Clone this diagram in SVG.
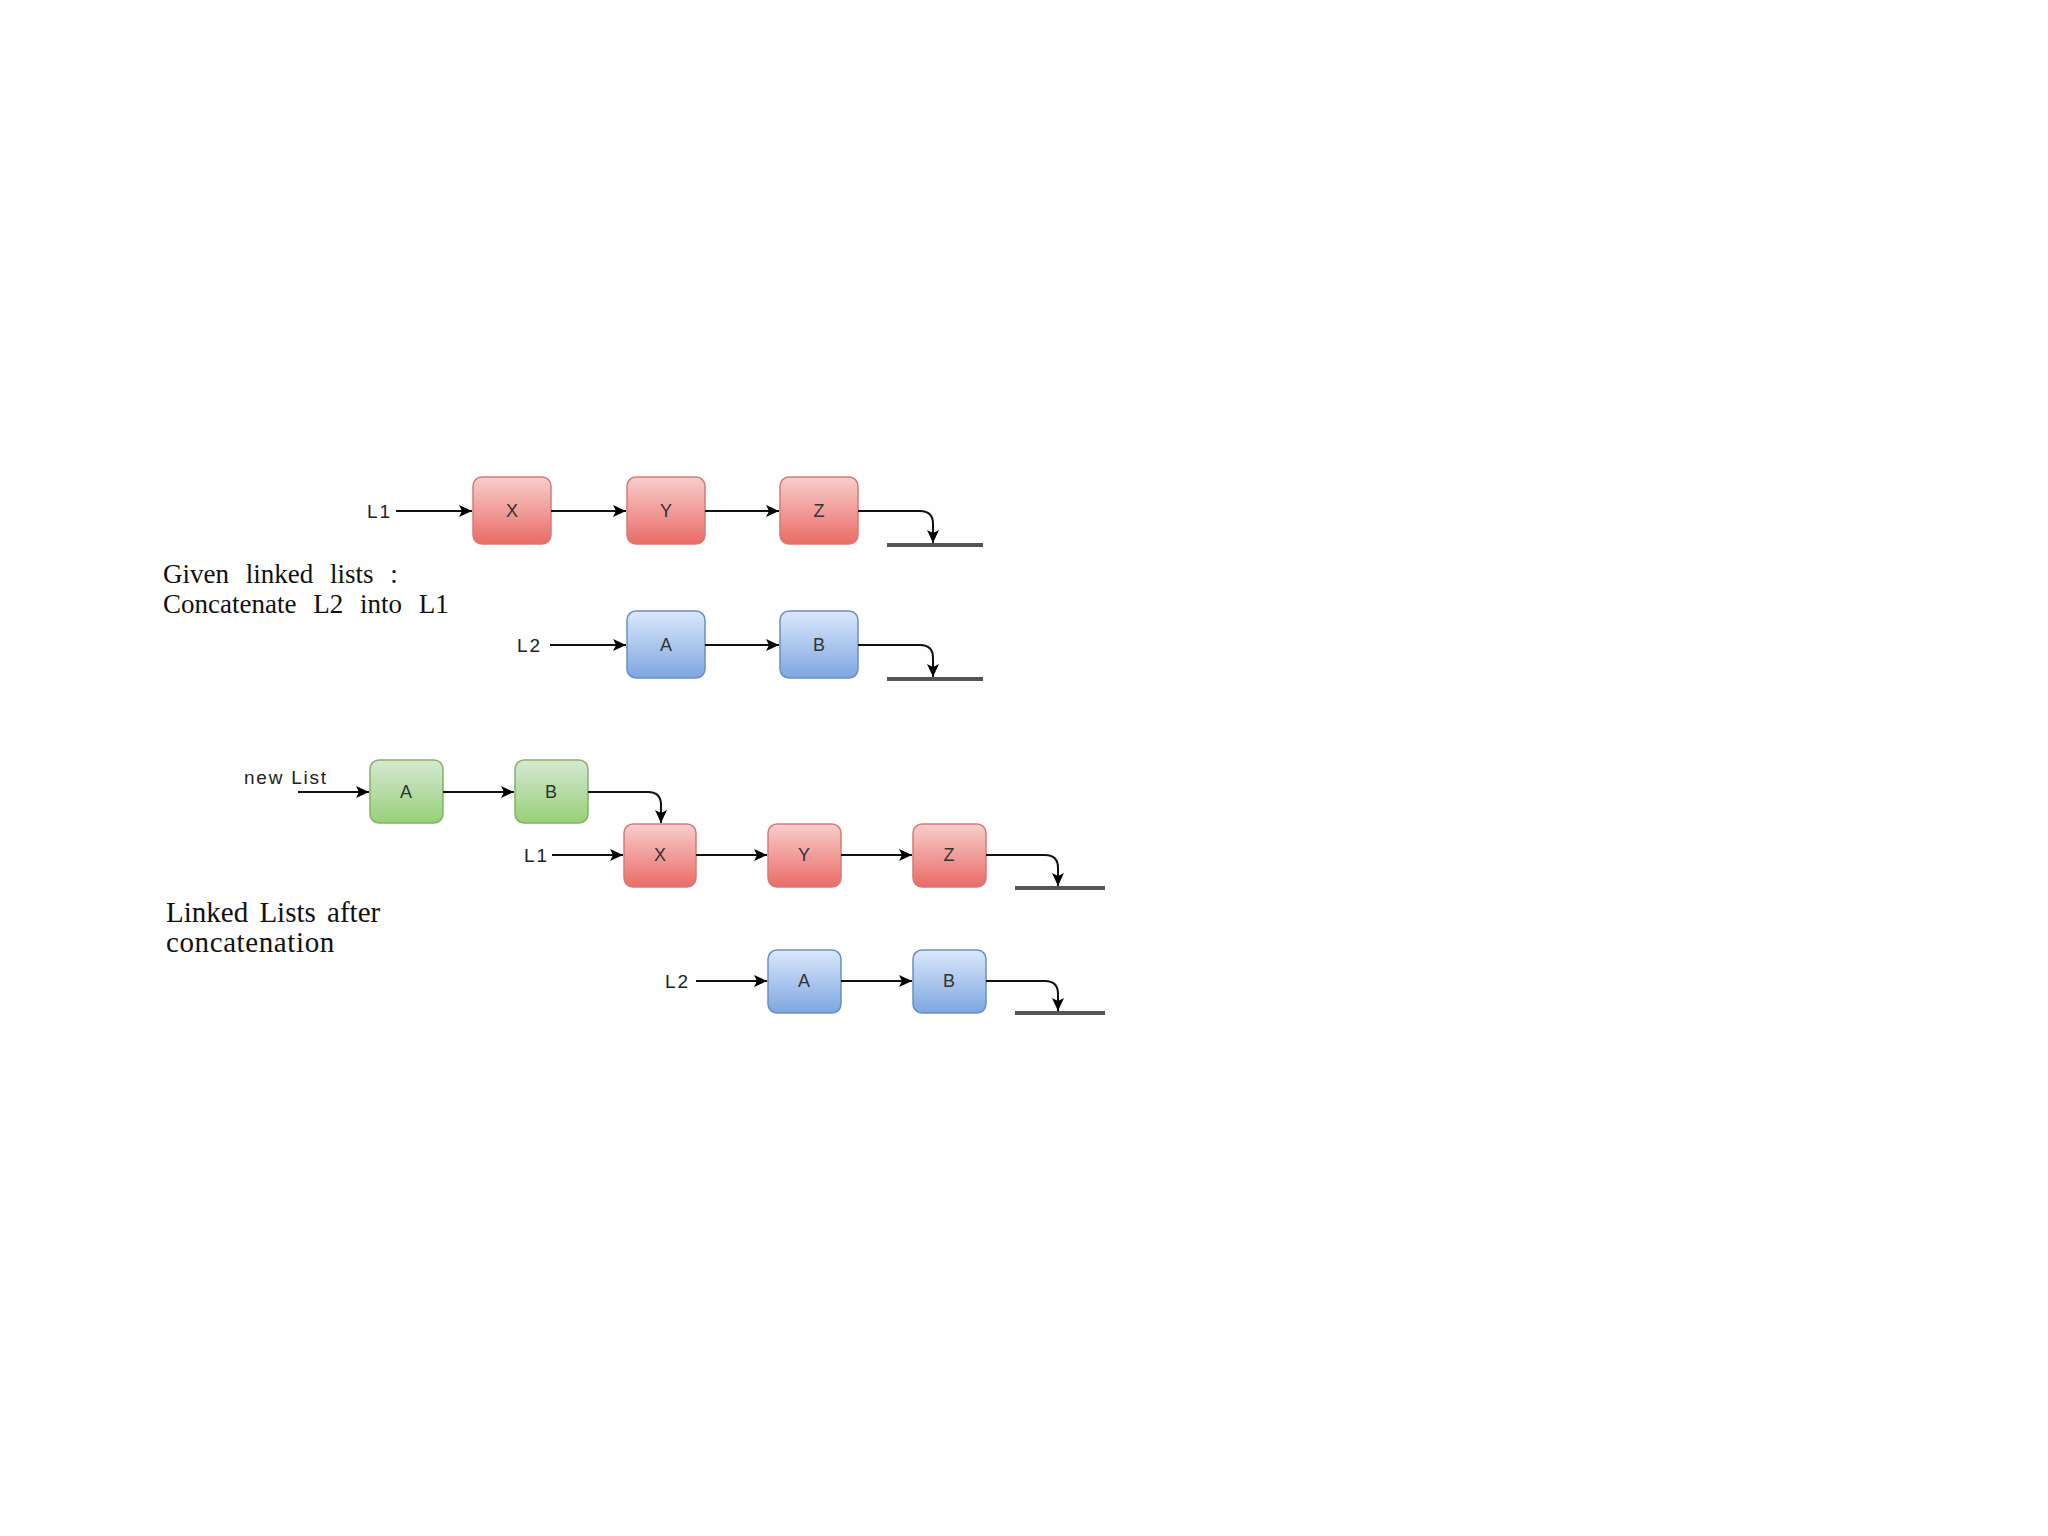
<svg xmlns="http://www.w3.org/2000/svg" width="2048" height="1536" viewBox="0 0 2048 1536">
<defs>
<linearGradient id="gRed" x1="0" y1="0" x2="0" y2="1"><stop offset="0" stop-color="#f8cecc"/><stop offset="1" stop-color="#ea6b66"/></linearGradient>
<linearGradient id="gBlue" x1="0" y1="0" x2="0" y2="1"><stop offset="0" stop-color="#dae8fc"/><stop offset="1" stop-color="#7ea6e0"/></linearGradient>
<linearGradient id="gGreen" x1="0" y1="0" x2="0" y2="1"><stop offset="0" stop-color="#d5e8d4"/><stop offset="1" stop-color="#97d077"/></linearGradient>
<marker id="arr" markerWidth="14" markerHeight="12" refX="13" refY="6" orient="auto" markerUnits="userSpaceOnUse"><path d="M0,0 L13,6 L0,12 L3,6 Z" fill="#000"/></marker>
</defs>
<style>
.red{fill:url(#gRed);stroke:#d67a77;stroke-width:1.5}
.blue{fill:url(#gBlue);stroke:#6c8ebf;stroke-width:1.5}
.green{fill:url(#gGreen);stroke:#82b366;stroke-width:1.5}
.lbl{font-family:"Liberation Sans",Arial,sans-serif;font-size:18px;fill:#333;text-anchor:middle;dominant-baseline:central}
.ptr{font-family:"Liberation Sans",Arial,sans-serif;font-size:19px;fill:#222;dominant-baseline:central;letter-spacing:2px}
.cap{font-family:"Liberation Serif","Times New Roman",serif;fill:#111}
.ln{stroke:#111;stroke-width:2;fill:none;marker-end:url(#arr)}
.gnd{stroke:#555;stroke-width:4;fill:none}
</style>
<rect width="2048" height="1536" fill="#fefefe"/>

<g id="captions">
<text class="cap" x="163" y="583" font-size="27" word-spacing="10">Given linked lists :</text>
<text class="cap" x="163" y="613" font-size="27" word-spacing="10">Concatenate L2 into L1</text>
<text class="cap" x="166" y="922" font-size="29" word-spacing="4">Linked Lists after</text>
<text class="cap" x="166" y="952" font-size="29" letter-spacing="0.6">concatenation</text>
</g>

<g id="pointers">
<text class="ptr" x="367" y="511">L1</text>
<text class="ptr" x="517" y="645">L2</text>
<text class="ptr" x="244" y="777" letter-spacing="1" textLength="84">new List</text>
<text class="ptr" x="524" y="855">L1</text>
<text class="ptr" x="665" y="981">L2</text>
</g>

<g id="n1X"><rect class="red" x="473" y="477" width="78" height="67" rx="9"/><text class="lbl" x="512" y="511">X</text></g>
<g id="n1Y"><rect class="red" x="627" y="477" width="78" height="67" rx="9"/><text class="lbl" x="666" y="511">Y</text></g>
<g id="n1Z"><rect class="red" x="780" y="477" width="78" height="67" rx="9"/><text class="lbl" x="819" y="511">Z</text></g>
<g id="n2A"><rect class="blue" x="627" y="611" width="78" height="67" rx="9"/><text class="lbl" x="666" y="645">A</text></g>
<g id="n2B"><rect class="blue" x="780" y="611" width="78" height="67" rx="9"/><text class="lbl" x="819" y="645">B</text></g>

<g id="n3A"><rect class="green" x="370" y="760" width="73" height="63" rx="9"/><text class="lbl" x="406" y="792">A</text></g>
<g id="n3B"><rect class="green" x="515" y="760" width="73" height="63" rx="9"/><text class="lbl" x="551" y="792">B</text></g>
<g id="n4X"><rect class="red" x="624" y="824" width="72" height="63" rx="9"/><text class="lbl" x="660" y="855">X</text></g>
<g id="n4Y"><rect class="red" x="768" y="824" width="73" height="63" rx="9"/><text class="lbl" x="804" y="855">Y</text></g>
<g id="n4Z"><rect class="red" x="913" y="824" width="73" height="63" rx="9"/><text class="lbl" x="949" y="855">Z</text></g>
<g id="n5A"><rect class="blue" x="768" y="950" width="73" height="63" rx="9"/><text class="lbl" x="804" y="981">A</text></g>
<g id="n5B"><rect class="blue" x="913" y="950" width="73" height="63" rx="9"/><text class="lbl" x="949" y="981">B</text></g>

<g id="connectors">
<path class="ln" d="M396,511 H472"/>
<path class="ln" d="M551,511 H626"/>
<path class="ln" d="M705,511 H779"/>
<path class="ln" d="M858,511 H920 Q933,511 933,524 V543"/>
<path class="gnd" d="M887,545 H983"/>
<path class="ln" d="M550,645 H626"/>
<path class="ln" d="M705,645 H779"/>
<path class="ln" d="M858,645 H920 Q933,645 933,658 V677"/>
<path class="gnd" d="M887,679 H983"/>

<path class="ln" d="M298,792 H369"/>
<path class="ln" d="M443,792 H514"/>
<path class="ln" d="M588,792 H648 Q661,792 661,805 V823"/>
<path class="ln" d="M552,855 H623"/>
<path class="ln" d="M696,855 H767"/>
<path class="ln" d="M841,855 H912"/>
<path class="ln" d="M986,855 H1045 Q1058,855 1058,868 V886"/>
<path class="gnd" d="M1015,888 H1105"/>
<path class="ln" d="M696,981 H767"/>
<path class="ln" d="M841,981 H912"/>
<path class="ln" d="M986,981 H1045 Q1058,981 1058,994 V1011"/>
<path class="gnd" d="M1015,1013 H1105"/>
</g>
</svg>
